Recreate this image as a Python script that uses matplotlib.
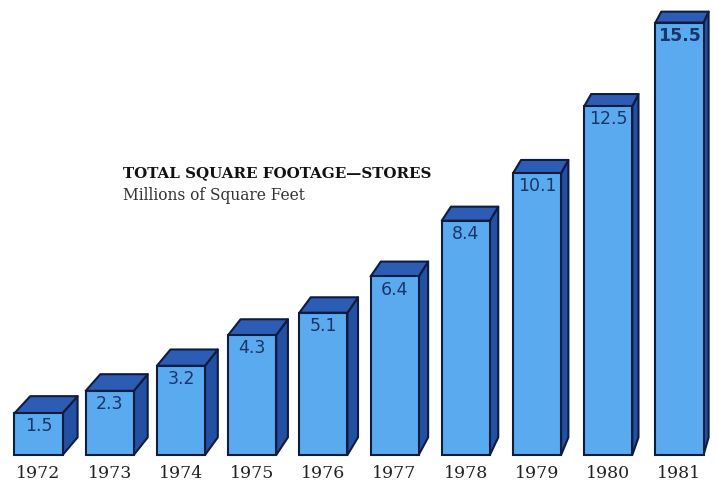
import matplotlib.pyplot as plt
from matplotlib.patches import Polygon
import numpy as np

years = ["1972", "1973", "1974", "1975", "1976", "1977", "1978", "1979", "1980", "1981"]
values = [1.5, 2.3, 3.2, 4.3, 5.1, 6.4, 8.4, 10.1, 12.5, 15.5]
value_labels = ["1.5", "2.3", "3.2", "4.3", "5.1", "6.4", "8.4", "10.1", "12.5", "15.5"]

front_col = "#5aaaf0"
top_col = "#2d5cb5"
side_col = "#2350a2"
edge_col = "#0e1c40"

# perspective: back corners pulled towards a vanishing point (data coords)
vp = np.array([13.94, 40.8])
k = 0.0155
w = 0.675

fig = plt.figure(figsize=(7.18, 4.84), dpi=100)
ax = fig.add_axes([0, 0, 1, 1])
ax.set_xlim(-0.541, 9.541)
ax.set_ylim(-1.039, 16.31)
ax.axis("off")


def back(p):
    p = np.array(p, dtype=float)
    return p + k * (vp - p)


x = np.arange(len(values))
ax.bar(x, values, width=w, color=front_col, edgecolor=edge_col, linewidth=1.5, zorder=3)

for i, v in enumerate(values):
    xl, xr = x[i] - w / 2, x[i] + w / 2
    top = [(xl, v), (xr, v), back((xr, v)), back((xl, v))]
    side = [(xr, 0), back((xr, 0)), back((xr, v)), (xr, v)]
    ax.add_patch(Polygon(side, closed=True, facecolor=side_col, edgecolor=edge_col,
                         linewidth=1.5, joinstyle="round", zorder=2))
    ax.add_patch(Polygon(top, closed=True, facecolor=top_col, edgecolor=edge_col,
                         linewidth=1.5, joinstyle="round", zorder=2))
    bold = "bold" if i == len(values) - 1 else "normal"
    ax.text(x[i], v - 0.47, value_labels[i], ha="center", va="center", fontsize=12.5,
            color="#1c3468", fontweight=bold, family="DejaVu Sans", zorder=4)
    ax.text(x[i], -0.645, years[i], ha="center", va="center", fontsize=12.5,
            color="#222222", family="DejaVu Serif")

fig.text(123 / 718, 1 - 173 / 484, "TOTAL SQUARE FOOTAGE\u2014STORES", ha="left", va="center",
         fontsize=10.9, fontweight="bold", family="DejaVu Serif", color="#111111")
fig.text(123 / 718, 1 - 196 / 484, "Millions of Square Feet", ha="left", va="center",
         fontsize=11.2, family="DejaVu Serif", color="#333333")

fig.savefig("out.png", dpi=100)
